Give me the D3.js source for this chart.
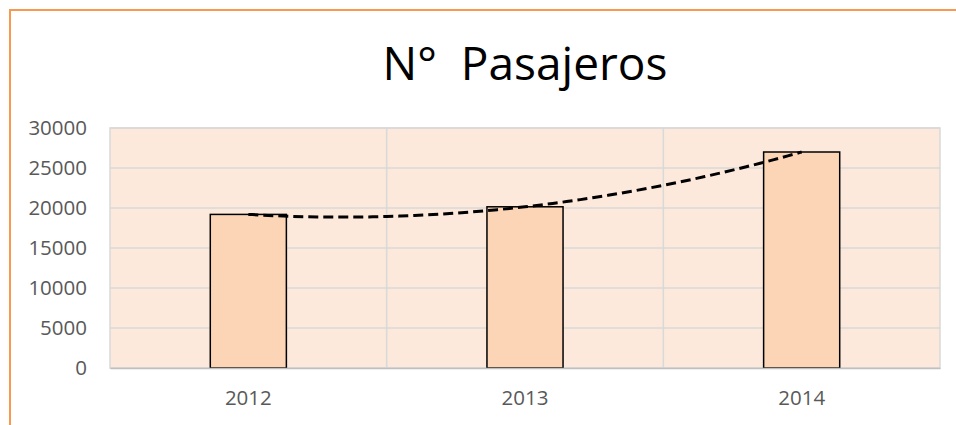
<!DOCTYPE html>
<html>
<head>
<meta charset="utf-8">
<script src="https://cdn.jsdelivr.net/npm/d3@7"></script>
<style>
  body { margin: 0; background: #fff; }
  svg { display: block; }
  .tick text { font-family: "Open Sans", "Liberation Sans", sans-serif; font-size: 20.5px; fill: #595959; }
</style>
</head>
<body>
<div class="chart"></div>
<script>
// chart data
var years = ["2012", "2013", "2014"];
var pasajeros = [19200, 20150, 27000];
var yTicks = [0, 5000, 10000, 15000, 20000, 25000, 30000];
var title = "N°  Pasajeros";

var svgWidth = 956;
var svgHeight = 425;

var margin = { top: 128, right: 16, bottom: 57, left: 110 };
var width = svgWidth - margin.left - margin.right;
var height = svgHeight - margin.top - margin.bottom;

var svg = d3.select(".chart")
    .append("svg")
    .attr("width", svgWidth)
    .attr("height", svgHeight);

// outer orange frame
svg.append("rect")
    .attr("x", 10)
    .attr("y", 10)
    .attr("width", svgWidth + 20)
    .attr("height", svgHeight + 20)
    .attr("fill", "none")
    .attr("stroke", "#F79A50")
    .attr("stroke-width", 2);

// title
svg.append("text")
    .attr("x", margin.left + width / 2)
    .attr("y", 80)
    .attr("text-anchor", "middle")
    .style("font-family", "'Open Sans', 'Liberation Sans', sans-serif")
    .style("font-size", "46px")
    .style("white-space", "pre")
    .attr("fill", "#000")
    .text(title);

var chartGroup = svg.append("g")
    .attr("transform", `translate(${margin.left}, ${margin.top})`);

// scales
var xBand = d3.scaleBand()
    .domain(years)
    .range([0, width])
    .paddingInner(0)
    .paddingOuter(0);

var yLinearScale = d3.scaleLinear()
    .domain([0, 30000])
    .range([height, 0]);

// plot background
chartGroup.append("rect")
    .attr("x", 0)
    .attr("y", 0)
    .attr("width", width)
    .attr("height", height)
    .attr("fill", "#FCE9DB")
    .attr("stroke", "#D9D9D9")
    .attr("stroke-width", 1.5);

// horizontal gridlines
chartGroup.append("g")
    .selectAll("line")
    .data(yTicks)
    .enter()
    .append("line")
    .attr("x1", 0)
    .attr("x2", width)
    .attr("y1", d => yLinearScale(d))
    .attr("y2", d => yLinearScale(d))
    .attr("stroke", "#D9D9D9")
    .attr("stroke-width", 1.5);

// vertical gridlines between categories
chartGroup.append("g")
    .selectAll("line")
    .data(years.slice(1))
    .enter()
    .append("line")
    .attr("x1", d => xBand(d))
    .attr("x2", d => xBand(d))
    .attr("y1", 0)
    .attr("y2", height)
    .attr("stroke", "#D9D9D9")
    .attr("stroke-width", 1.5);

// bars
var barWidth = xBand.bandwidth() * 0.275;
chartGroup.selectAll(".bar")
    .data(pasajeros)
    .enter()
    .append("rect")
    .attr("class", "bar")
    .attr("x", (d, i) => xBand(years[i]) + xBand.bandwidth() / 2 - barWidth / 2)
    .attr("y", d => yLinearScale(d))
    .attr("width", barWidth)
    .attr("height", d => height - yLinearScale(d))
    .attr("fill", "#FBD5B5")
    .attr("stroke", "#000")
    .attr("stroke-width", 1.5);

// polynomial (order 2) trendline through the points
function trend(t) {
  var y0 = pasajeros[0], y1 = pasajeros[1], y2 = pasajeros[2];
  return y0 * (t - 1) * (t - 2) / 2 - y1 * t * (t - 2) + y2 * t * (t - 1) / 2;
}
var trendPts = d3.range(0, 2.001, 0.05).map(t => [t, trend(t)]);
var xCenter = t => xBand(years[0]) + xBand.bandwidth() / 2 + t * xBand.step();

chartGroup.append("path")
    .datum(trendPts)
    .attr("fill", "none")
    .attr("stroke", "#000")
    .attr("stroke-width", 3)
    .attr("stroke-dasharray", "10,5")
    .attr("d", d3.line().x(d => xCenter(d[0])).y(d => yLinearScale(d[1])).curve(d3.curveMonotoneX));

// axes
var leftAxis = d3.axisLeft(yLinearScale).tickValues(yTicks).tickFormat(d3.format("d")).tickSize(0).tickPadding(23);
chartGroup.append("g")
    .call(leftAxis)
    .call(g => g.select(".domain").remove());

var bottomAxis = d3.axisBottom(xBand).tickSize(0).tickPadding(22);
chartGroup.append("g")
    .attr("transform", `translate(0, ${height})`)
    .call(bottomAxis)
    .call(g => g.select(".domain").attr("stroke", "#BFBFBF").attr("stroke-width", 1.5));
</script>
</body>
</html>
